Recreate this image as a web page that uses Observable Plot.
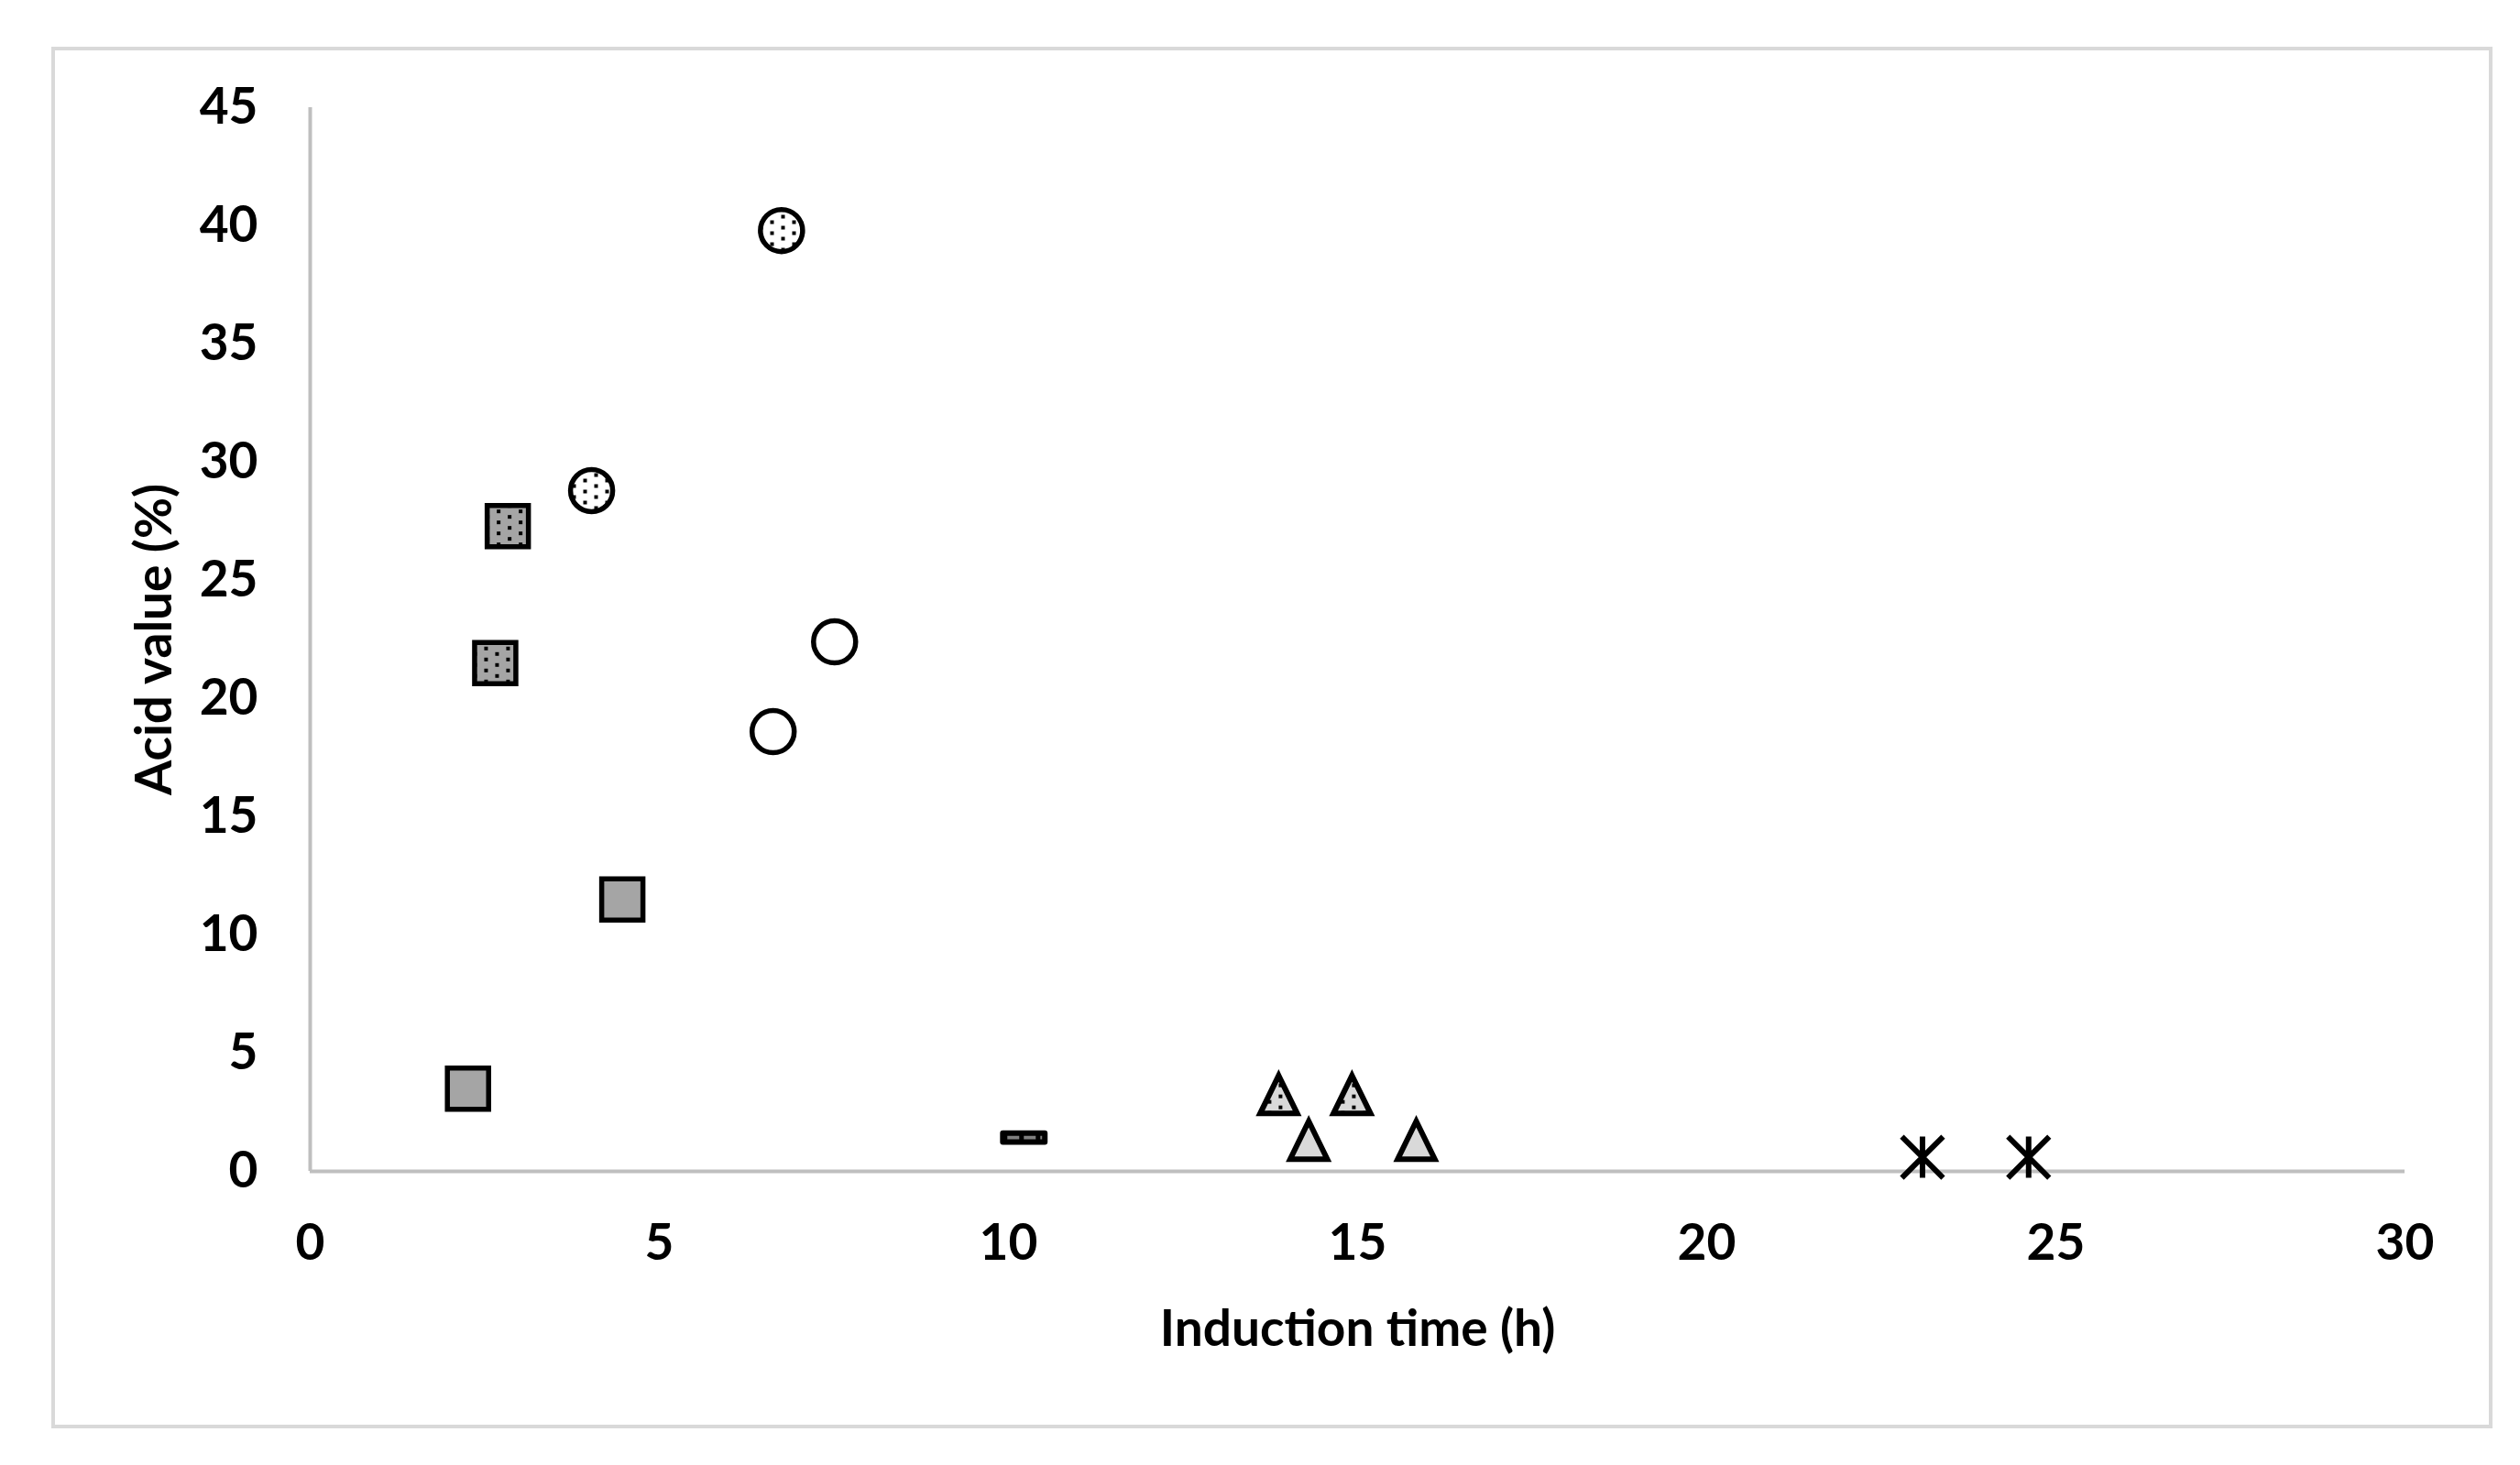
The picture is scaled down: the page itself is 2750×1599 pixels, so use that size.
<!DOCTYPE html>
<html>
<head>
<meta charset="utf-8">
<script src="https://cdn.jsdelivr.net/npm/d3@7"></script>
<script src="https://cdn.jsdelivr.net/npm/@observablehq/plot@0.6"></script>
<style>
  html, body { margin: 0; padding: 0; background: #fff; }
  #wrap { position: relative; width: 2750px; height: 1599px; }
  #frame { position: absolute; left: 56px; top: 51px; width: 2656px; height: 1500px;
           border: 4px solid #d9d9d9; pointer-events: none; }
  #wrap svg { position: absolute; left: 0; top: 0; }
</style>
</head>
<body>
<div id="wrap"><div id="frame"></div></div>
<script>
// ---- tick values ----
const xTicks = [0, 5, 10, 15, 20, 25, 30];
const yTicks = [0, 5, 10, 15, 20, 25, 30, 35, 40, 45];
const xLabel = "Induction time (h)";
const yLabel = "Acid value (%)";

// ---- series (induction time h, acid value %) ----
const graySquareX = [2.26, 4.47];
const graySquareY = [3.5, 11.5];
const dottedSquareX = [2.65, 2.83];
const dottedSquareY = [21.5, 27.3];
const dottedCircleX = [4.03, 6.75];
const dottedCircleY = [28.8, 39.8];
const openCircleX = [6.63, 7.51];
const openCircleY = [18.6, 22.4];
const dashX = [10.22];
const dashY = [1.43];
const dottedTriangleX = [13.87, 14.92];
const dottedTriangleY = [3.25, 3.25];
const triangleX = [14.30, 15.84];
const triangleY = [1.32, 1.32];
const starX = [23.09, 24.61];
const starY = [0.6, 0.6];

// ---- custom marker shapes (size = r*r*PI) ----
const rad = s => Math.sqrt(s / Math.PI);
const squareSym = { draw(c, s) { const r = rad(s); c.moveTo(-r, -r); c.lineTo(r, -r); c.lineTo(r, r); c.lineTo(-r, r); c.closePath(); } };
const triSym = { draw(c, s) { const r = rad(s), w = 0.9 * r, h = 0.92 * r; c.moveTo(0, -h); c.lineTo(w, h); c.lineTo(-w, h); c.closePath(); } };
const dashSym = { draw(c, s) { const r = rad(s), w = 1.02 * r, h = 0.22 * r; c.moveTo(-w, -h); c.lineTo(w, -h); c.lineTo(w, h); c.lineTo(-w, h); c.closePath(); } };
const starSym = { draw(c, s) { const r = rad(s); c.moveTo(0, -r); c.lineTo(0, r); c.moveTo(-r, -r); c.lineTo(r, r); c.moveTo(-r, r); c.lineTo(r, -r); } };

const R = 22.5;
const plot = Plot.plot({
  width: 2750,
  height: 1599,
  marginLeft: 338,
  marginRight: 126,
  marginTop: 117,
  marginBottom: 321,
  style: { fontFamily: "Lato, 'Open Sans', sans-serif", fontWeight: "bold", fontSize: "55px", color: "#000", background: "transparent", overflow: "visible" },
  x: { domain: [0, 30], ticks: xTicks, tickSize: 0, tickPadding: 57, label: xLabel, labelAnchor: "center", labelOffset: 190, labelArrow: "none" },
  y: { domain: [0, 45], ticks: yTicks, tickSize: 0, tickPadding: 57, label: yLabel, labelAnchor: "center", labelOffset: 191, labelArrow: "none" },
  marks: [
    Plot.ruleX([0], { stroke: "#bfbfbf", strokeWidth: 4 }),
    Plot.ruleY([0], { stroke: "#bfbfbf", strokeWidth: 4 }),
    Plot.dot(graySquareX, { x: graySquareX, y: graySquareY, symbol: squareSym, r: R, fill: "#a5a5a5", stroke: "#000", strokeWidth: 5.5 }),
    Plot.dot(dottedSquareX, { x: dottedSquareX, y: dottedSquareY, symbol: squareSym, r: R, fill: "url(#dotsGray)", stroke: "#000", strokeWidth: 5.5 }),
    Plot.dot(dottedCircleX, { x: dottedCircleX, y: dottedCircleY, symbol: "circle", r: 23, fill: "url(#dotsWhite)", stroke: "#000", strokeWidth: 5.5 }),
    Plot.dot(openCircleX, { x: openCircleX, y: openCircleY, symbol: "circle", r: 23, fill: "#fff", stroke: "#000", strokeWidth: 5.5 }),
    Plot.dot(dashX, { x: dashX, y: dashY, symbol: dashSym, r: R, fill: "url(#dashFill)", stroke: "#000", strokeWidth: 6, strokeLinejoin: "round" }),
    Plot.dot(dottedTriangleX, { x: dottedTriangleX, y: dottedTriangleY, symbol: triSym, r: R, fill: "url(#dotsLight)", stroke: "#000", strokeWidth: 6 }),
    Plot.dot(triangleX, { x: triangleX, y: triangleY, symbol: triSym, r: R, fill: "#d9d9d9", stroke: "#000", strokeWidth: 6 }),
    Plot.dot(starX, { x: starX, y: starY, symbol: starSym, r: R, fill: "none", stroke: "#000", strokeWidth: 6 })
  ]
});

// dotted fill patterns
const defs = `<defs>
  <pattern id="dotsGray" patternUnits="userSpaceOnUse" width="24" height="12">
    <rect width="24" height="12" fill="#a5a5a5"/><rect x="0" y="0" width="4" height="4" fill="#000"/><rect x="12" y="6" width="4" height="4" fill="#000"/>
  </pattern>
  <pattern id="dotsWhite" patternUnits="userSpaceOnUse" width="24" height="12">
    <rect width="24" height="12" fill="#fff"/><rect x="0" y="0" width="4" height="4" fill="#000"/><rect x="12" y="6" width="4" height="4" fill="#000"/>
  </pattern>
  <pattern id="dotsLight" patternUnits="userSpaceOnUse" width="24" height="12">
    <rect width="24" height="12" fill="#d9d9d9"/><rect x="0" y="0" width="4" height="4" fill="#000"/><rect x="12" y="6" width="4" height="4" fill="#000"/>
  </pattern>
  <pattern id="dashFill" patternUnits="userSpaceOnUse" width="18" height="18">
    <rect width="18" height="18" fill="#000"/><rect x="0" y="0" width="13" height="18" fill="#808080"/>
  </pattern>
</defs>`;
plot.insertAdjacentHTML("afterbegin", defs);
document.getElementById("wrap").appendChild(plot);
</script>
</body>
</html>
